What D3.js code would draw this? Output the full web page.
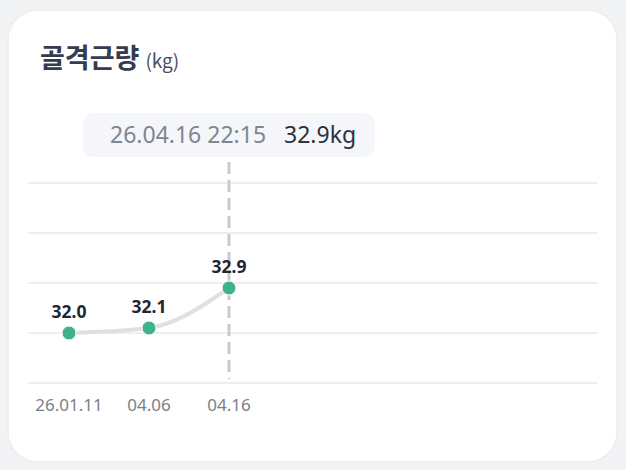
<!DOCTYPE html>
<html><head><meta charset="utf-8">
<script src="https://cdn.jsdelivr.net/npm/d3@7"></script>
<style>
html,body{margin:0;padding:0;background:#f2f3f5;}
svg{display:block;}
</style></head>
<body>
<svg id="chart" width="626" height="470"></svg>
<script>
const categories = ["26.01.11", "04.06", "04.16"];
const values = [32.0, 32.1, 32.9];
const yTicks = [31, 32, 33, 34, 35];
const title = "골격근량";
const unit = "(kg)";
const tooltipDate = "26.04.16 22:15";
const tooltipValue = "32.9kg";
const selectedIndex = 2;

const svg = d3.select("#chart");
const font = "'Noto Sans CJK KR','Noto Sans',sans-serif";

// card
svg.append("rect").attr("x", 8).attr("y", 10).attr("width", 609).attr("height", 452)
  .attr("rx", 30).attr("fill", "#ffffff").attr("stroke", "#eceef1").attr("stroke-width", 1.5);

// title
const t = svg.append("text").attr("x", 40).attr("y", 68).attr("font-family", font);
t.append("tspan").attr("font-size", 27).attr("font-weight", 700).attr("fill", "#353c4e").text(title);
t.append("tspan").attr("dx", 6).attr("font-size", 19).attr("fill", "#4a5060").text(unit);

const x = d3.scalePoint().domain(categories).range([69, 229]);
const y = d3.scaleLinear().domain([31, 35]).range([383, 183]);

// grid
svg.append("g").selectAll("line").data(yTicks).join("line")
  .attr("x1", 28).attr("x2", 597)
  .attr("y1", d => y(d)).attr("y2", d => y(d))
  .attr("stroke", "#e8e9ec").attr("stroke-width", 1.5);

// dashed vertical
const sx = x(categories[selectedIndex]);
svg.append("line").attr("x1", sx).attr("x2", sx).attr("y1", 162).attr("y2", y(31) - 4)
  .attr("stroke", "#c9cace").attr("stroke-width", 3).attr("stroke-dasharray", "12,6");

// tooltip
svg.append("rect").attr("x", 83).attr("y", 113).attr("width", 292).attr("height", 44)
  .attr("rx", 11).attr("fill", "#f4f6f9");
const tt = svg.append("text").attr("x", 110).attr("y", 143).attr("font-family", "'Noto Sans',sans-serif").attr("font-size", 23);
tt.append("tspan").attr("fill", "#7e8694").text(tooltipDate);
tt.append("tspan").attr("dx", 18).attr("fill", "#2b3240").text(tooltipValue);

// line
const line = d3.line().x((d, i) => x(categories[i])).y(d => y(d)).curve(d3.curveMonotoneX);
svg.append("path").datum(values).attr("d", line).attr("fill", "none")
  .attr("stroke", "#dfe0e3").attr("stroke-width", 4).attr("stroke-linecap", "round");

// dots
svg.append("g").selectAll("circle").data(values).join("circle")
  .attr("cx", (d, i) => x(categories[i])).attr("cy", d => y(d)).attr("r", 7)
  .attr("fill", "#3fb28b").attr("stroke", "#ffffff").attr("stroke-width", 1);

// value labels
svg.append("g").selectAll("text").data(values).join("text")
  .attr("x", (d, i) => x(categories[i])).attr("y", d => y(d) - 15)
  .attr("text-anchor", "middle").attr("font-family", "'Noto Sans',sans-serif")
  .attr("font-size", 17.5).attr("font-weight", 700).attr("fill", "#1f2633")
  .text(d => d.toFixed(1));

// x axis labels
svg.append("g").selectAll("text").data(categories).join("text")
  .attr("x", d => x(d)).attr("y", 411).attr("text-anchor", "middle")
  .attr("font-family", "'Noto Sans',sans-serif").attr("font-size", 17).attr("fill", "#7a808a")
  .text(d => d);
</script>
</body></html>
